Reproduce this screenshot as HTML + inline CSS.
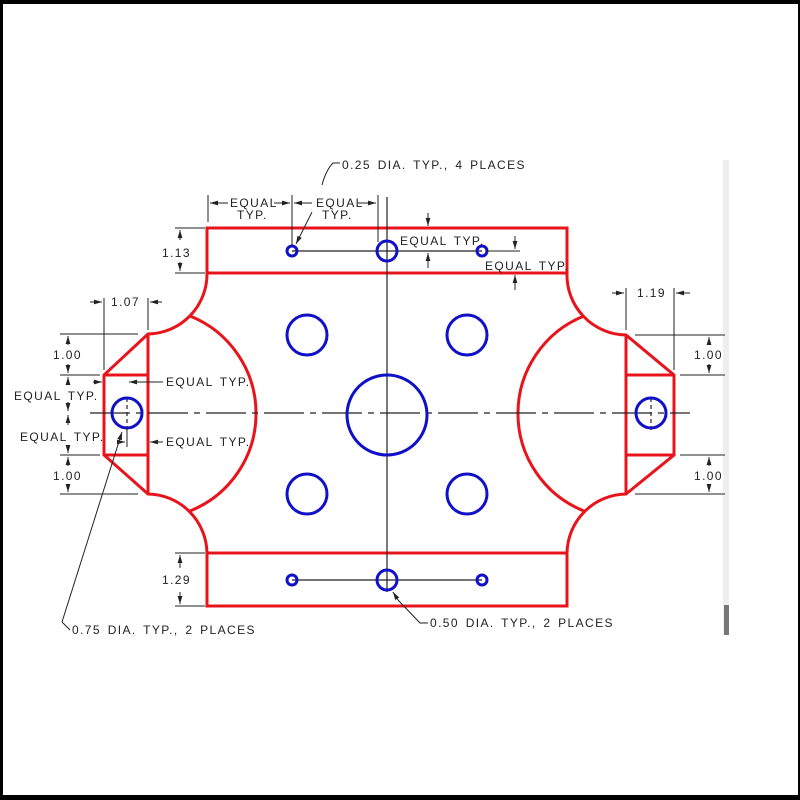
<!DOCTYPE html>
<html><head><meta charset="utf-8"><style>
html,body{margin:0;padding:0;background:#000;}
svg{display:block;}
text{font-family:"Liberation Sans",sans-serif;font-size:12px;fill:#222;letter-spacing:1.4px;word-spacing:2px;}
</style></head><body>
<svg width="800" height="800" viewBox="0 0 800 800" xmlns="http://www.w3.org/2000/svg">
<defs>
<marker id="a" viewBox="0 0 10 6" refX="10" refY="3" markerWidth="8" markerHeight="5" orient="auto-start-reverse"><path d="M0,0 L10,3 L0,6z" fill="#222"/></marker>
</defs>
<rect x="3" y="4" width="795" height="791" fill="#fff"/>
<rect x="723" y="160" width="6" height="475" fill="#eee"/>
<rect x="724" y="605" width="5" height="30" fill="#777"/>

<g fill="none" stroke="#e8141c" stroke-width="3">
<rect x="207" y="228" width="360" height="45"/>
<rect x="207" y="553" width="360" height="53"/>
<path d="M207,273 A60,60 0 0 1 148,334 L104,375 L104,455 L148,494 A60,60 0 0 1 207,553"/>
<path d="M148,334 L148,494 M104,375 L148,375 M104,455 L148,455"/>
<path d="M190,316 A105,105 0 0 1 190,511"/>
<path d="M567,273 A60,60 0 0 0 626,335 L674,375 L674,455 L626,494 A60,60 0 0 0 567,553"/>
<path d="M626,335 L626,494 M626,375 L674,375 M626,455 L674,455"/>
<path d="M584,316 A105,105 0 0 0 584,511"/>
</g>

<g stroke="#222" stroke-width="1.2" fill="none">
<line x1="90" y1="413" x2="690" y2="413" stroke-dasharray="40,6,6,6"/>
<line x1="387" y1="197" x2="387" y2="592"/>
<line x1="292" y1="251" x2="482" y2="251"/>
<line x1="292" y1="580" x2="482" y2="580"/>
<line x1="127" y1="398" x2="127" y2="430" stroke-dasharray="4,3"/>
<line x1="651" y1="398" x2="651" y2="430" stroke-dasharray="4,3"/>
</g>

<g fill="none" stroke="#1010c8" stroke-width="3">
<circle cx="307" cy="335" r="20"/><circle cx="467" cy="335" r="20"/>
<circle cx="307" cy="494" r="20"/><circle cx="467" cy="494" r="20"/>
<circle cx="387" cy="415" r="40"/>
<circle cx="292" cy="251" r="5"/><circle cx="387" cy="251" r="10"/><circle cx="482" cy="251" r="5"/>
<circle cx="292" cy="580" r="5"/><circle cx="387" cy="580" r="10"/><circle cx="482" cy="580" r="5"/>
<circle cx="127" cy="413" r="15"/><circle cx="651" cy="413" r="15"/>
</g>

<g stroke="#222" stroke-width="1" fill="none">
<line x1="208" y1="195" x2="208" y2="222"/>
<line x1="292" y1="195" x2="292" y2="246"/>
<line x1="378" y1="195" x2="378" y2="242"/>
<line x1="228" y1="203" x2="210" y2="203" marker-end="url(#a)"/>
<line x1="274" y1="203" x2="290" y2="203" marker-end="url(#a)"/>
<line x1="312" y1="203" x2="294" y2="203" marker-end="url(#a)"/>
<line x1="358" y1="203" x2="376" y2="203" marker-end="url(#a)"/>
<path d="M340,163 L333,163 Q326,170 322,185"/>
<line x1="312" y1="212" x2="296" y2="244" marker-end="url(#a)"/>
<line x1="175" y1="228" x2="205" y2="228"/><line x1="175" y1="273" x2="205" y2="273"/>
<line x1="180" y1="240" x2="180" y2="230" marker-end="url(#a)"/>
<line x1="180" y1="262" x2="180" y2="271" marker-end="url(#a)"/>
<line x1="428" y1="213" x2="428" y2="226" marker-end="url(#a)"/>
<line x1="428" y1="268" x2="428" y2="253" marker-end="url(#a)"/>
<line x1="486" y1="251" x2="520" y2="251"/>
<line x1="515" y1="236" x2="515" y2="249" marker-end="url(#a)"/>
<line x1="515" y1="290" x2="515" y2="275" marker-end="url(#a)"/>
<line x1="104" y1="298" x2="104" y2="370"/><line x1="148" y1="298" x2="148" y2="330"/>
<line x1="90" y1="302" x2="102" y2="302" marker-end="url(#a)"/>
<line x1="162" y1="302" x2="150" y2="302" marker-end="url(#a)"/>
<line x1="60" y1="334" x2="138" y2="334"/><line x1="60" y1="375" x2="100" y2="375"/>
<line x1="60" y1="455" x2="100" y2="455"/><line x1="60" y1="494" x2="138" y2="494"/>
<line x1="68" y1="345" x2="68" y2="336" marker-end="url(#a)"/>
<line x1="68" y1="364" x2="68" y2="373" marker-end="url(#a)"/>
<line x1="68" y1="385" x2="68" y2="377" marker-end="url(#a)"/>
<line x1="68" y1="402" x2="68" y2="411" marker-end="url(#a)"/>
<line x1="68" y1="425" x2="68" y2="415" marker-end="url(#a)"/>
<line x1="68" y1="445" x2="68" y2="453" marker-end="url(#a)"/>
<line x1="68" y1="466" x2="68" y2="457" marker-end="url(#a)"/>
<line x1="68" y1="484" x2="68" y2="492" marker-end="url(#a)"/>
<line x1="93" y1="382" x2="102" y2="382" marker-end="url(#a)"/>
<line x1="163" y1="382" x2="129" y2="382" marker-end="url(#a)"/>
<line x1="118" y1="442" x2="125" y2="442" marker-end="url(#a)"/>
<line x1="163" y1="442" x2="150" y2="442" marker-end="url(#a)"/>
<line x1="127" y1="428" x2="127" y2="447"/>
<line x1="62" y1="622" x2="122" y2="432" marker-end="url(#a)"/>
<line x1="62" y1="622" x2="70" y2="630"/>
<line x1="175" y1="553" x2="205" y2="553"/><line x1="175" y1="606" x2="205" y2="606"/>
<line x1="180" y1="568" x2="180" y2="555" marker-end="url(#a)"/>
<line x1="180" y1="592" x2="180" y2="604" marker-end="url(#a)"/>
<path d="M428,623 L420,623 L398,600"/>
<line x1="398" y1="600" x2="393" y2="592" marker-end="url(#a)"/>
<line x1="626" y1="288" x2="626" y2="330"/><line x1="674" y1="288" x2="674" y2="370"/>
<line x1="612" y1="293" x2="624" y2="293" marker-end="url(#a)"/>
<line x1="690" y1="293" x2="676" y2="293" marker-end="url(#a)"/>
<line x1="635" y1="335" x2="725" y2="335"/><line x1="680" y1="375" x2="725" y2="375"/>
<line x1="680" y1="455" x2="725" y2="455"/><line x1="635" y1="494" x2="725" y2="494"/>
<line x1="709" y1="345" x2="709" y2="337" marker-end="url(#a)"/>
<line x1="709" y1="364" x2="709" y2="373" marker-end="url(#a)"/>
<line x1="709" y1="466" x2="709" y2="457" marker-end="url(#a)"/>
<line x1="709" y1="484" x2="709" y2="492" marker-end="url(#a)"/>
</g>

<text x="342" y="169">0.25 DIA. TYP., 4 PLACES</text>
<text x="230" y="207">EQUAL</text><text x="237" y="219">TYP.</text>
<text x="316" y="207">EQUAL</text><text x="322" y="219">TYP.</text>
<text x="162" y="257">1.13</text>
<text x="400" y="245">EQUAL TYP.</text>
<text x="485" y="270">EQUAL TYP.</text>
<text x="111" y="306">1.07</text>
<text x="53" y="359">1.00</text>
<text x="14" y="400">EQUAL TYP.</text>
<text x="20" y="441">EQUAL TYP.</text>
<text x="53" y="480">1.00</text>
<text x="166" y="386">EQUAL TYP.</text>
<text x="166" y="446">EQUAL TYP.</text>
<text x="637" y="297">1.19</text>
<text x="694" y="359">1.00</text>
<text x="694" y="480">1.00</text>
<text x="162" y="584">1.29</text>
<text x="72" y="634">0.75 DIA. TYP., 2 PLACES</text>
<text x="430" y="627">0.50 DIA. TYP., 2 PLACES</text>
</svg>
</body></html>
